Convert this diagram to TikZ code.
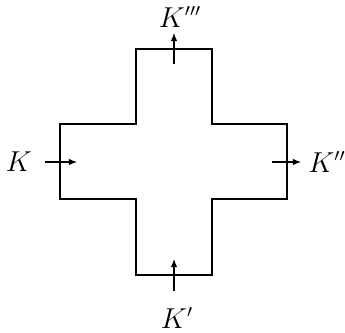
\documentclass[tikz,border=0pt]{standalone}
\usetikzlibrary{arrows.meta}
\begin{document}
\begin{tikzpicture}[x=0.5pt,y=-0.5pt,
  outline/.style={line width=0.75pt,line join=miter},
  flow/.style={line width=0.55pt,-{Latex[length=4pt,width=3.2pt]}},
  lab/.style={font=\fontsize{13.5}{16}\selectfont,inner sep=0pt}]
\useasboundingbox (0,0) rectangle (345,333);
\draw[outline] (136,49) -- (212,49) -- (212,124) -- (287,124) -- (287,199)
  -- (212,199) -- (212,275) -- (136,275) -- (136,199) -- (60,199) -- (60,124)
  -- (136,124) -- cycle;
\draw[line width=1.1pt] (60,199) -- (60,124) -- (136,124);
\node[lab] (k) at (19,162) {$K$};
\node[lab] (k2) at (327,162) {$K''$};
\node[lab] (k3) at (180,17) {$K'''$};
\node[lab] (k1) at (177,318) {$K'$};
\coordinate (a1) at (45,162); \coordinate (b1) at (77,162);
\coordinate (a2) at (272,162); \coordinate (b2) at (301,162);
\coordinate (a3) at (174,64); \coordinate (b3) at (174,33);
\coordinate (a4) at (174,291); \coordinate (b4) at (174,259);
\draw[flow] (a1) -- (b1);
\draw[flow] (a2) -- (b2);
\draw[flow] (a3) -- (b3);
\draw[flow] (a4) -- (b4);
\end{tikzpicture}
\end{document}
